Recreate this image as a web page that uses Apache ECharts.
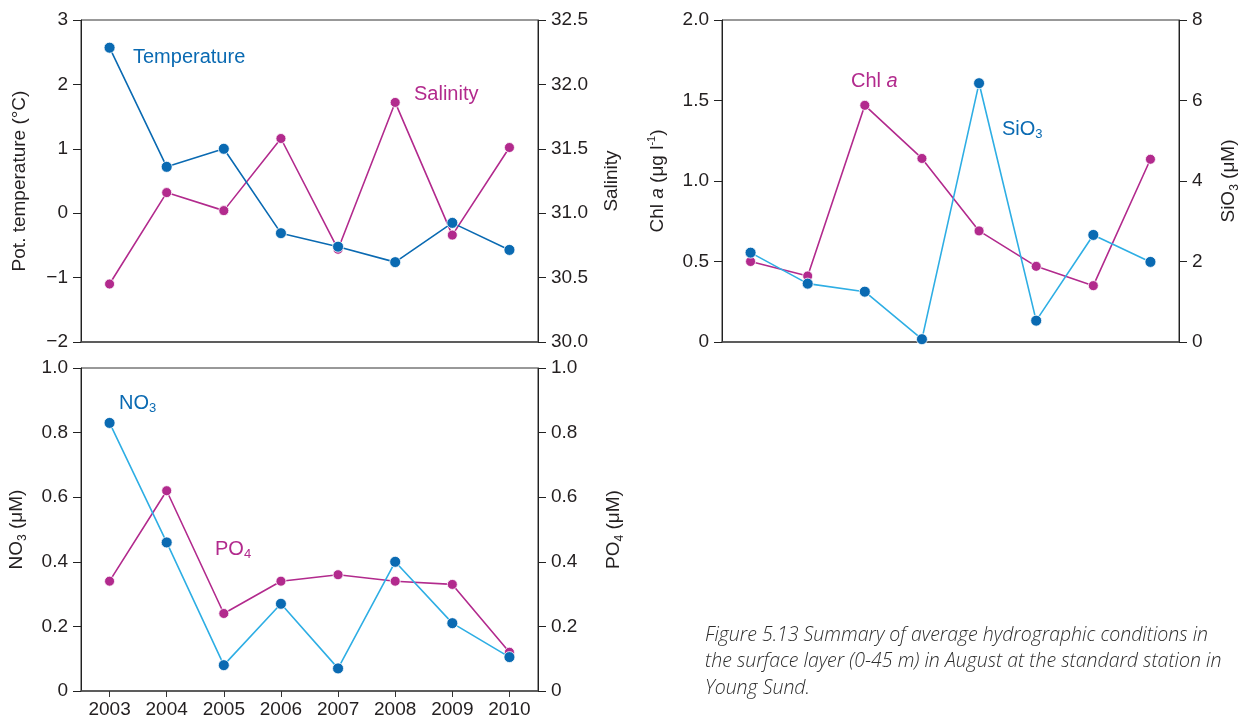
<!DOCTYPE html>
<html>
<head>
<meta charset="utf-8">
<script src="https://cdn.jsdelivr.net/npm/echarts@6/dist/echarts.min.js"></script>
<style>
html,body{margin:0;padding:0;background:#fff;}
#chart{width:1249px;height:722px;}
</style>
</head>
<body>
<div id="chart"></div>
<script>
// ---- data ----
var years = ['2003','2004','2005','2006','2007','2008','2009','2010'];
var temperature = [2.57, 0.72, 1.00, -0.31, -0.52, -0.76, -0.15, -0.57];
var salinity = [30.45, 31.16, 31.02, 31.58, 30.72, 31.86, 30.83, 31.51];
var no3 = [0.83, 0.46, 0.08, 0.27, 0.07, 0.40, 0.21, 0.105];
var po4 = [0.34, 0.62, 0.24, 0.34, 0.36, 0.34, 0.33, 0.12];
var chla = [0.50, 0.41, 1.47, 1.14, 0.69, 0.47, 0.35, 1.135];
var sio3 = [2.22, 1.45, 1.25, 0.07, 6.43, 0.53, 2.66, 1.99];
var tempTicks = [-2, -1, 0, 1, 2, 3];
var salTicks = [30.0, 30.5, 31.0, 31.5, 32.0, 32.5];
var nutTicks = [0, 0.2, 0.4, 0.6, 0.8, 1.0];
var chlTicks = [0, 0.5, 1.0, 1.5, 2.0];
var sioTicks = [0, 2, 4, 6, 8];
var caption = [
  'Figure 5.13 Summary of average hydrographic conditions in',
  'the surface layer (0-45 m) in August at the standard station in',
  'Young Sund.'
];

var DARK = '#0a6ab2', CYAN = '#2eaee4', MAG = '#b22a8d', TXT = '#231f20';
var FONT = 'Liberation Sans, Arial, Helvetica, sans-serif';
var FS = 19, LFS = 20;

var chart = echarts.init(document.getElementById('chart'));

function yAxis(gi, pos, ticks, fmt, name, nameGap, rich) {
  return {
    type: 'value', gridIndex: gi, position: pos,
    min: ticks[0], max: ticks[ticks.length - 1],
    interval: ticks[1] - ticks[0],
    splitLine: {show: false},
    axisLine: {show: true, onZero: false, lineStyle: {color: '#222', width: 1}},
    axisTick: {show: true, length: 8, lineStyle: {color: '#222', width: 1}},
    axisLabel: {color: TXT, fontSize: FS, fontFamily: FONT, margin: 13, formatter: fmt},
    name: name, nameLocation: 'middle', nameRotate: 90, nameGap: nameGap,
    nameTextStyle: {color: TXT, fontSize: FS, fontFamily: FONT, rich: rich || {}}
  };
}
function xAxis(gi, showLabels) {
  return {
    type: 'category', gridIndex: gi, data: years, boundaryGap: true,
    axisLine: {show: true, onZero: false, lineStyle: {color: '#4a4a4a', width: 1.5}},
    axisTick: {show: showLabels, alignWithLabel: true, length: 6, lineStyle: {color: '#333', width: 1}},
    axisLabel: {show: showLabels, color: TXT, fontSize: FS, fontFamily: FONT, margin: 9}
  };
}
function fmtMinus(v) { return String(v).replace('-', '\u2212'); }
function fmt1(v) { return v.toFixed(1); }
function fmtNut(v) { return v === 0 ? '0' : v.toFixed(1); }
function fmtInt(v) { return String(v); }

var baseRich = {
  n: {fontSize: FS, fontFamily: FONT, color: TXT, lineHeight: 24},
  s: {fontSize: 12, fontFamily: FONT, color: TXT, lineHeight: 12, verticalAlign: 'bottom', padding: [4, 0, 0, 0]},
  i: {fontSize: FS, fontFamily: FONT, color: TXT, lineHeight: 24, fontStyle: 'italic'},
  u: {fontSize: 11, fontFamily: FONT, color: TXT, lineHeight: 11, verticalAlign: 'top'}
};

function line(name, data, xi, yi, lineColor, symColor, size, z) {
  return {
    name: name, type: 'line', xAxisIndex: xi, yAxisIndex: yi, data: data,
    symbol: 'circle', symbolSize: size, showSymbol: true,
    lineStyle: {color: lineColor, width: 1.6},
    itemStyle: {color: symColor, borderColor: '#fff', borderWidth: 0.8},
    z: z, animation: false
  };
}

function label(x, y, text, color, rich) {
  return {
    type: 'text', x: x, y: y, z: 100,
    style: {text: text, fill: color, font: LFS + 'px ' + FONT, verticalAlign: 'middle', rich: rich}
  };
}
function richFor(color) {
  return {
    n: {fontSize: LFS, fontFamily: FONT, fill: color, color: color, lineHeight: 24},
    s: {fontSize: 13, fontFamily: FONT, fill: color, color: color, lineHeight: 13, verticalAlign: 'bottom', padding: [5, 0, 0, 0]},
    i: {fontSize: LFS, fontFamily: FONT, fill: color, color: color, lineHeight: 24, fontStyle: 'italic'}
  };
}

var option = {
  backgroundColor: '#fff',
  animation: false,
  grid: [
    {left: 81, top: 20, width: 457, height: 322, show: true, borderColor: '#333', borderWidth: 1},
    {left: 81, top: 368, width: 457, height: 323, show: true, borderColor: '#333', borderWidth: 1},
    {left: 722, top: 20, width: 457, height: 322, show: true, borderColor: '#333', borderWidth: 1}
  ],
  xAxis: [xAxis(0, false), xAxis(1, true), xAxis(2, false)],
  yAxis: [
    yAxis(0, 'left', tempTicks, fmtMinus, 'Pot. temperature (°C)', 52),
    yAxis(0, 'right', salTicks, fmt1, 'Salinity', 64),
    yAxis(1, 'left', nutTicks, fmtNut, '{n|NO}{s|3}{n| (μM)}', 52, baseRich),
    yAxis(1, 'right', nutTicks, fmtNut, '{n|PO}{s|4}{n| (μM)}', 64, baseRich),
    yAxis(2, 'left', chlTicks, fmtNut, '{n|Chl }{i|a}{n| (μg l}{u|-1}{n|)}', 52, baseRich),
    yAxis(2, 'right', sioTicks, fmtInt, '{n|SiO}{s|3}{n| (μM)}', 38, baseRich)
  ],
  series: [
    line('Salinity', salinity, 0, 1, MAG, MAG, 10, 2),
    line('Temperature', temperature, 0, 0, DARK, DARK, 11, 3),
    line('PO4', po4, 1, 3, MAG, MAG, 10, 2),
    line('NO3', no3, 1, 2, CYAN, DARK, 11, 3),
    line('Chl a', chla, 2, 4, MAG, MAG, 10, 2),
    line('SiO3', sio3, 2, 5, CYAN, DARK, 11, 3)
  ],
  graphic: [
    label(133, 57, '{n|Temperature}', DARK, richFor(DARK)),
    label(414, 94, '{n|Salinity}', MAG, richFor(MAG)),
    label(119, 403, '{n|NO}{s|3}', DARK, richFor(DARK)),
    label(215, 549, '{n|PO}{s|4}', MAG, richFor(MAG)),
    label(851, 81, '{n|Chl }{i|a}', MAG, richFor(MAG)),
    label(1002, 129, '{n|SiO}{s|3}', DARK, richFor(DARK)),
    {type: 'text', x: 705, y: 622, z: 100,
     style: {text: caption.join('\n'), fill: '#2e2e2e', font: 'italic 300 19.5px "Open Sans", sans-serif', lineHeight: 26.5, verticalAlign: 'top'}}
  ]
};
chart.setOption(option);
</script>
</body>
</html>
